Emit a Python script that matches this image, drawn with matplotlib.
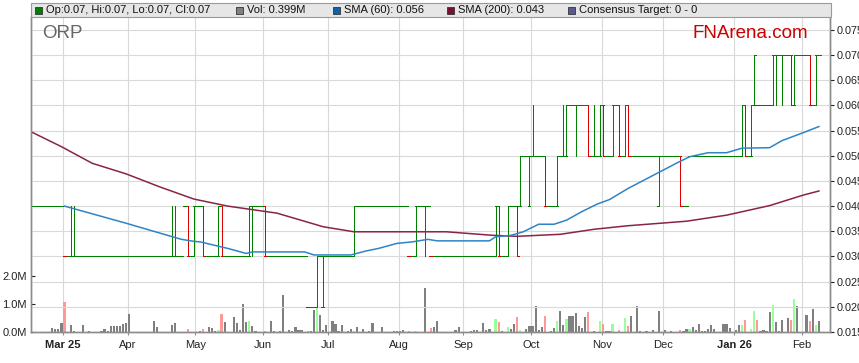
import numpy as np
import pandas as pd
import matplotlib
matplotlib.use('Agg')
import matplotlib.pyplot as plt
from matplotlib.patches import Rectangle

plt.rcParams['font.family'] = ['Liberation Sans', 'DejaVu Sans']

W, H = 859, 363

# ---- daily OHLC in cents, trading days from 14 Feb 2025 to 9 Feb 2026
opens = [4,4,4,4,4,4,4,4,4,4,4,3,3,3,3,3,3,3,3,3,
         3,3,3,3,3,3,3,3,3,3,3,3,3,3,3,3,3,3,3,3,
         3,3,3,3,3,3,3,3,3,3,4,4,3,3,4,4,4,3,3,3,
         3,3,4,3,3,3,3,3,3,3,3,3,4,4,4,4,4,3,3,3,
         3,3,3,3,3,3,3,3,3,3,2,2,2,2,3,2,3,3,3,3,
         3,3,3,3,3,3,4,4,4,4,4,4,4,4,4,4,4,4,4,4,
         4,4,4,3,3,3,4,4,4,4,3,3,3,3,3,3,3,3,3,3,
         3,3,3,3,3,3,3,3,3,3,3,3,4,3,3,3,4,4,4,4,
         5,5,4,5,5,5,5,5,4,4,4,4,5,5,5,6,6,6,6,6,
         6,6,5,5,5,5,6,5,5,5,6,6,5,5,6,5,5,5,5,5,
         5,5,5,5,4,5,5,5,5,5,5,5,4,4,5,5,5,5,5,5,
         5,5,5,5,5,5,5,5,5,5,5,5,6,5,5,6,6,6,6,6,
         6,6,7,7,7,7,7,7,6,7,7,7,7,7,6,6,7]
highs = [4,4,4,4,4,4,4,4,4,4,4,3,3,4,4,3,3,3,3,3,
         3,3,3,3,3,3,3,3,3,3,3,3,3,3,3,3,3,3,3,3,
         3,3,3,3,3,3,4,4,3,3,4,4,3,4,4,4,4,3,3,3,
         3,4,4,3,3,3,3,3,3,3,3,4,4,4,4,4,4,3,3,3,
         3,3,3,3,3,3,3,3,3,3,2,2,2,3,3,3,3,3,3,3,
         3,3,3,3,3,4,4,4,4,4,4,4,4,4,4,4,4,4,4,4,
         4,4,4,3,3,4,4,4,4,4,3,3,3,3,3,3,3,3,3,3,
         3,3,3,3,3,3,3,3,3,3,3,4,4,3,3,4,4,4,4,5,
         5,5,5,6,5,5,5,5,4,4,4,5,5,6,6,6,6,6,6,6,
         6,6,5,6,5,6,6,5,5,6,6,6,5,6,6,5,5,5,5,5,
         5,5,5,5,5,5,5,5,5,5,5,5,4,4,5,5,5,5,5,5,
         5,5,5,5,5,5,5,5,5,5,5,6,6,5,6,7,6,6,6,6,
         6,7,7,7,7,7,7,7,7,7,7,7,7,7,6,7,7]
lows = [4,4,4,4,4,4,4,4,4,4,4,3,3,3,3,3,3,3,3,3,
        3,3,3,3,3,3,3,3,3,3,3,3,3,3,3,3,3,3,3,3,
        3,3,3,3,3,3,3,3,3,3,4,3,3,3,4,4,3,3,3,3,
        3,3,3,3,3,3,3,3,3,3,3,3,3,4,4,4,3,3,3,3,
        3,3,3,3,3,3,3,3,3,3,2,2,2,2,3,2,3,3,3,3,
        3,3,3,3,3,3,4,4,4,4,4,4,4,4,4,4,4,4,4,4,
        4,4,4,3,3,3,4,4,3,4,3,3,3,3,3,3,3,3,3,3,
        3,3,3,3,3,3,3,3,3,3,3,3,3,3,3,3,4,4,3,4,
        5,5,4,5,5,5,5,4,4,4,4,4,5,5,5,6,6,5,6,6,
        6,5,5,5,5,5,5,5,5,5,6,5,5,5,5,5,5,5,5,5,
        5,5,5,5,4,5,5,5,5,5,5,4,4,4,5,5,5,5,5,5,
        5,5,5,5,5,5,5,5,5,5,5,5,5,5,5,6,6,6,6,6,
        6,6,6,7,6,7,7,6,6,7,7,7,7,6,6,6,7]
closes = [4,4,4,4,4,4,4,4,4,4,4,3,3,3,3,3,3,3,3,3,
          3,3,3,3,3,3,3,3,3,3,3,3,3,3,3,3,3,3,3,3,
          3,3,3,3,3,3,3,3,3,3,4,3,3,4,4,4,3,3,3,3,
          3,4,3,3,3,3,3,3,3,3,3,4,4,4,4,4,3,3,3,3,
          3,3,3,3,3,3,3,3,3,3,2,2,2,3,3,3,3,3,3,3,
          3,3,3,3,3,4,4,4,4,4,4,4,4,4,4,4,4,4,4,4,
          4,4,4,3,3,4,4,4,4,4,3,3,3,3,3,3,3,3,3,3,
          3,3,3,3,3,3,3,3,3,3,3,4,3,3,3,4,4,4,3,5,
          5,5,5,5,5,5,5,4,4,4,4,5,5,5,6,6,6,6,6,6,
          6,5,5,5,5,6,5,5,5,6,6,5,5,6,5,5,5,5,5,5,
          5,5,5,5,5,5,5,5,5,5,5,4,4,4,5,5,5,5,5,5,
          5,5,5,5,5,5,5,5,5,5,5,6,5,5,6,7,6,6,6,6,
          6,7,7,7,7,7,7,6,7,7,7,7,7,6,6,7,7]

# volume in millions of shares
volumes = [0.48,0,0,0,0,0,0,0.16,0.10,0.12,0.34,1.08,0,0.25,0.05,0,0,0.25,0,0.05,
           0,0,0,0.05,0.10,0.05,0.20,0.22,0.22,0.22,0.29,0.34,0.65,0,0,0,0,0,0,0,
           0.40,0.19,0,0,0,0,0.25,0.33,0,0,0,0.11,0,0,0,0.04,0.12,0,0.19,0.16,
           0.03,0.07,0.65,0.37,0,0,0.55,0.31,0.07,1.0,0.37,0.40,0.22,0.04,0,0,0.04,0,0.40,0.04,
           0,0.04,1.34,0,0.07,0.04,0.18,0.07,0.07,0,0.03,0.04,0.80,0.90,0.61,0.07,0.25,0,0.40,0.29,
           0.04,0.25,0,0.04,0.11,0.04,0.19,0,0.11,0,0.04,0.33,0,0,0.19,0,0,0,0.04,0.04,
           0.04,0.07,0,0.04,0,0.04,0,0,1.6,0,0.13,0.19,0.40,0,0,0,0,0,0.07,0.18,
           0,0,0,0.04,0.07,0.07,0,0.33,0.07,0.12,0,0.47,0.36,0.04,0,0.18,0.12,0.29,0.55,0.07,
           0,0.10,0.20,0.22,0.94,0.07,0.18,0.59,0,0.04,0.13,0.40,0.76,0.25,0.46,0.58,0.58,0.70,0.22,0.16,
           0.54,0.71,0,0.04,0,0.41,0.29,0.04,0.04,0.29,0,0.07,0,0.52,0.22,0.58,0,0.94,0.04,0,
           0.04,0,0.07,0,0.76,0,0.07,0,0.04,0,0,0.07,0.04,0.11,0.11,0.18,0.07,0.29,0.04,0.04,
           0.10,0.25,0.12,0,0,0.29,0.29,0.16,0,0.07,0.25,0.25,0.43,0,0.12,0.76,0.43,0.04,0.07,0.04,
           0.72,0.98,0.36,0.04,0.43,0,0.51,0.43,1.2,0.94,0,0,0.61,0.40,0.84,0.25,0.40]

# moving averages (trading-day index, price)
sma60_days = [11, 31, 45, 49, 53, 55, 64, 70, 72, 89, 92, 104, 109, 113, 119, 124, 129, 132, 149,
              151, 156, 160, 165, 170, 174, 179, 184, 188, 194, 210, 214, 220, 226, 231, 240, 244, 251, 256]
sma60_vals = [0.0400, 0.0366, 0.0341, 0.0334, 0.0330, 0.0329, 0.0316, 0.0306, 0.0309, 0.0309, 0.0303,
              0.0303, 0.0311, 0.0316, 0.0326, 0.0329, 0.0334, 0.0331, 0.0331, 0.0339, 0.0342, 0.0349,
              0.0364, 0.0364, 0.0372, 0.0389, 0.0404, 0.0413, 0.0435, 0.0486, 0.0498, 0.0506, 0.0506,
              0.0515, 0.0516, 0.0530, 0.0546, 0.0558]
sma200_days = [0, 10, 20, 31, 42, 53, 64, 80, 95, 105, 129, 135, 150, 158, 172, 183, 194, 213, 226, 240, 251, 256]
sma200_vals = [0.0548, 0.0518, 0.0485, 0.0464, 0.0438, 0.0414, 0.0400, 0.0386, 0.0359, 0.0349, 0.0349,
               0.0349, 0.0342, 0.0340, 0.0344, 0.0354, 0.0361, 0.0370, 0.0382, 0.0401, 0.0422, 0.0430]

month_labels = ['Mar 25', 'Apr', 'May', 'Jun', 'Jul', 'Aug', 'Sep', 'Oct', 'Nov', 'Dec', 'Jan 26', 'Feb']
price_ticks = [0.015, 0.020, 0.025, 0.030, 0.035, 0.040, 0.045, 0.050, 0.055, 0.060, 0.065, 0.070, 0.075]
vol_ticks = [0, 1, 2]
vol_labels = ['0.0M', '1.0M', '2.0M']

legend_items = [('#008000', 'Op:0.07, Hi:0.07, Lo:0.07, Cl:0.07'),
                ('#808080', 'Vol: 0.399M'),
                ('#0f62a8', 'SMA (60): 0.056'),
                ('#7a0f2e', 'SMA (200): 0.043'),
                ('#5a5a90', 'Consensus Target: 0 - 0')]

GREEN, RED = '#008000', '#dd0000'
GRID = '#d9d9d9'

o = np.array(opens) / 100
h = np.array(highs) / 100
l = np.array(lows) / 100
c = np.array(closes) / 100
vol = np.array(volumes)
n = len(c)
x = np.arange(n)
dates = pd.bdate_range('2025-02-14', periods=n)

prev = np.r_[c[0], c[:-1]]
price_col = np.where(c < prev, RED, GREEN)
vol_col = np.where(c > prev, '#99ff99', np.where(c < prev, '#ff9999', '#808080'))

fig = plt.figure(figsize=(W / 100, H / 100), dpi=100)
ax = fig.add_axes([31 / W, 31 / H, 799 / W, 315 / H])
axp = ax.twinx()

# volume (left axis)
ax.bar(x, vol, width=0.72, color=vol_col, linewidth=0)
ax.set_ylim(0, 315 / 27.8)
ax.set_yticks(vol_ticks)
ax.set_yticklabels(vol_labels)

# month grid / ticks
starts = np.where(dates.month[1:] != dates.month[:-1])[0] + 1
ax.set_xticks(starts - 0.5)
ax.set_xticklabels(month_labels)
for lab in ax.get_xticklabels():
    if ' ' in lab.get_text():
        lab.set_fontweight('bold')
ax.grid(axis='x', color=GRID, lw=0.8)
ax.set_axisbelow(True)
ax.set_xlim(0.12, 259.6)

# price (right axis)
axp.set_ylim(0.015, 0.015 + 315 / 5036)
axp.set_yticks(price_ticks)
axp.set_yticklabels(['%.3f' % t for t in price_ticks])
axp.grid(axis='y', color=GRID, lw=0.8, zorder=0)

# OHLC ticks: open on the left half of the day, close on the right half
lw = 0.72
ov = 0.12
axp.hlines(o, x - 0.5 - ov, x + ov, colors=price_col, lw=lw, antialiased=False)
axp.hlines(c, x - ov, x + 0.5 + ov, colors=price_col, lw=lw, antialiased=False)
m = h > l
axp.vlines(x[m], l[m], h[m], colors=price_col[m], lw=lw, antialiased=False)

axp.plot(sma200_days, sma200_vals, color='#8a2447', lw=1.1)
axp.plot(sma60_days, sma60_vals, color='#2f84c6', lw=1.1)

for a in (ax, axp):
    a.spines['top'].set_visible(False)
    for s in ('left', 'right', 'bottom'):
        a.spines[s].set_color('#8c8c8c')
        a.spines[s].set_linewidth(1)
ax.tick_params(axis='y', direction='in', length=3, labelsize=8, colors='#222222', pad=3)
ax.tick_params(axis='x', direction='out', length=2, labelsize=8, pad=4,
               colors='#8c8c8c', labelcolor='#222222')
axp.tick_params(axis='y', direction='out', length=3, labelsize=7.8, colors='#222222', pad=1.5)

# header bar with legend
fx = lambda px: px / W
fy = lambda py: 1 - py / H
fig.patches.append(Rectangle((fx(31), fy(17)), 800 / W, 14 / H, transform=fig.transFigure,
                             facecolor='#e6e6e6', edgecolor='#9a9a9a', lw=0.8))
sq_x = [35, 236, 333, 447, 568]
for sx, (col, txt) in zip(sq_x, legend_items):
    fig.patches.append(Rectangle((fx(sx), fy(14)), 7 / W, 7 / H, transform=fig.transFigure,
                                 facecolor=col, edgecolor='#333333', lw=0.6))
    fig.text(fx(sx + 11), fy(10), txt, fontsize=8, va='center', ha='left', color='#111111')

fig.text(fx(42), fy(33), 'ORP', fontsize=13.5, color='#666666', va='center', ha='left')
fig.text(fx(808), fy(33), 'FNArena.com', fontsize=13.5, color='#cc0000', va='center', ha='right')

fig.savefig('out.png', dpi=100)
